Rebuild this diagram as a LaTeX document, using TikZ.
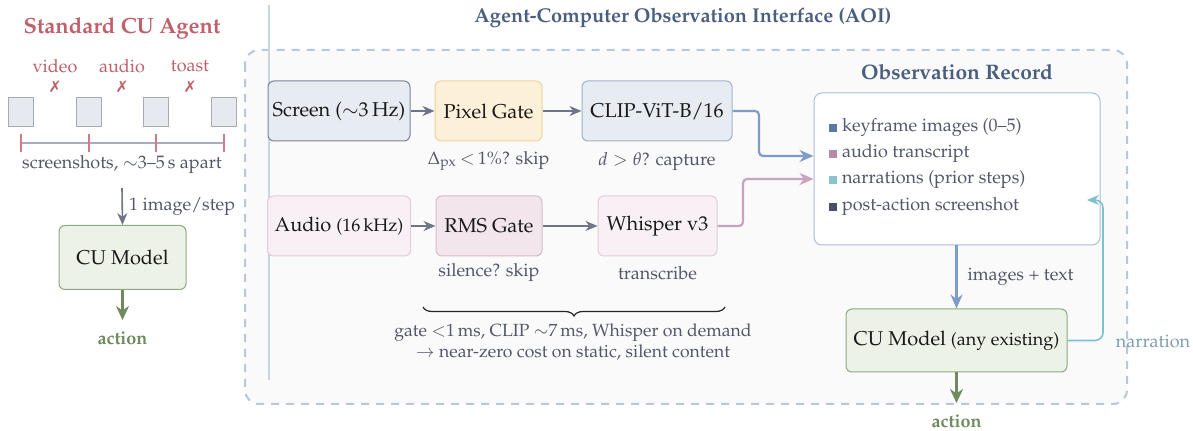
\documentclass[tikz,border=0pt]{standalone}
\usepackage[T1]{fontenc}
\usepackage{mathpazo}
\usepackage{pifont}
\usetikzlibrary{arrows.meta,decorations.pathreplacing}
\definecolor{redt}{HTML}{C0606A}
\definecolor{navy}{HTML}{4A5F80}
\definecolor{txtgray}{HTML}{525869}
\definecolor{arrgray}{HTML}{6E7586}
\definecolor{scrfill}{HTML}{E7EBF2}
\definecolor{scrdraw}{HTML}{7C8294}
\definecolor{gatefill}{HTML}{FDF0D9}
\definecolor{gatedraw}{HTML}{EDD49A}
\definecolor{clipdraw}{HTML}{9DB3D3}
\definecolor{audfill}{HTML}{F8F0F4}
\definecolor{auddraw}{HTML}{E2CCD8}
\definecolor{rmsfill}{HTML}{F2E5EC}
\definecolor{rmsdraw}{HTML}{D9BACB}
\definecolor{cufill}{HTML}{EDF2E7}
\definecolor{cudraw}{HTML}{8FA882}
\definecolor{actgreen}{HTML}{6E8A5E}
\definecolor{bluearr}{HTML}{7D9CC6}
\definecolor{pinkarr}{HTML}{C9A2BC}
\definecolor{tealarr}{HTML}{7FC0CF}
\definecolor{narrc}{HTML}{7C9EAE}
\definecolor{dashc}{HTML}{BAC6DA}
\definecolor{sepc}{HTML}{C8D3E6}
\definecolor{obsdraw}{HTML}{A9BEDA}
\definecolor{kone}{HTML}{5B7BA6}
\definecolor{ktwo}{HTML}{B38CA8}
\definecolor{kthree}{HTML}{8BC2CE}
\definecolor{kfour}{HTML}{4A5068}
\definecolor{smallfill}{HTML}{E6E9F0}
\definecolor{smalldraw}{HTML}{A6AAB6}
\definecolor{tickred}{HTML}{D27A86}
\definecolor{tlgray}{HTML}{A9ACBA}
\definecolor{aoifill}{HTML}{FAFAFB}
\newcommand{\smallsz}{\fontsize{9}{11}\selectfont}
\newcommand{\mainsz}{\fontsize{10}{12}\selectfont}
\newcommand{\sq}[1]{\textcolor{#1}{\rule{3.8pt}{3.8pt}}\hspace{2.5pt}}
\tikzset{
  box/.style={draw, rounded corners=3pt, line width=0.5pt, font=\mainsz, text=black!90, inner sep=0pt, minimum height=30pt},
  scrbox/.style={box, fill=scrfill, draw=scrdraw},
  gatebox/.style={box, fill=gatefill, draw=gatedraw},
  clipbox/.style={box, fill=scrfill, draw=clipdraw},
  audbox/.style={box, fill=audfill, draw=auddraw},
  rmsbox/.style={box, fill=rmsfill, draw=rmsdraw},
  cubox/.style={box, fill=cufill, draw=cudraw},
  sub/.style={font=\smallsz, text=txtgray, inner sep=1pt},
  garr/.style={draw=arrgray, line width=0.8pt, -{Stealth[length=6pt,width=5pt]}},
  barr/.style={draw=bluearr, line width=1.1pt, rounded corners=2pt, -{Stealth[length=7pt,width=6pt]}},
  parr/.style={draw=pinkarr, line width=1.1pt, rounded corners=2pt, -{Stealth[length=7pt,width=6pt]}},
  tarr/.style={draw=tealarr, line width=0.8pt, rounded corners=4pt, -{Stealth[length=6pt,width=5pt]}},
  actarr/.style={draw=actgreen, line width=1.3pt, -{Stealth[length=7pt,width=6.5pt]}},
  acttxt/.style={font=\smallsz\bfseries, text=actgreen, inner sep=1pt},
  shot/.style={draw=smalldraw, fill=smallfill, line width=0.5pt, minimum width=12.5pt, minimum height=14.5pt, inner sep=0pt},
  miss/.style={font=\smallsz, text=redt, inner sep=0pt, align=center},
  item/.style={font=\smallsz, text=txtgray, anchor=west, inner sep=0pt}
}
\begin{document}
\begin{tikzpicture}[x=0.5pt, y=-0.5pt]
\useasboundingbox (0,0) rectangle (1193,431);
% ---------- left: standard agent ----------
\node[font=\fontsize{11}{13}\selectfont\bfseries, text=redt] (ttl) at (122,28) {Standard CU Agent};
\node[miss] (mv) at (55,66) {video};
\node[miss] (ma) at (122,66) {audio};
\node[miss] (mt) at (190,66) {toast};
\node[miss, font=\fontsize{8}{9}\selectfont] (xv) at (55,87) {\ding{55}};
\node[miss, font=\fontsize{8}{9}\selectfont] (xa) at (122,87) {\ding{55}};
\node[miss, font=\fontsize{8}{9}\selectfont] (xt) at (190,87) {\ding{55}};
\node[shot] (s1) at (20.5,112.5) {};
\node[shot] (s2) at (88.5,112.5) {};
\node[shot] (s3) at (156,112.5) {};
\node[shot] (s4) at (224,112.5) {};
\coordinate (t1) at (21,143);
\coordinate (t2) at (89,143);
\coordinate (t3) at (156,143);
\coordinate (t4) at (224,143);
\draw[tlgray, line width=0.7pt] (t1) -- (t4);
\foreach \t in {t1,t2,t3,t4} \draw[tickred, line width=0.7pt] ([yshift=4.5pt]\t) -- ([yshift=-4.5pt]\t);
\node[sub] (shtxt) at (122,165) {screenshots, $\sim$3--5\,s apart};
\coordinate (ain) at (122,188);
\node[cubox, minimum width=63.5pt, minimum height=32pt] (cul) at (122.5,257.5) {CU Model};
\draw[garr] (ain) -- node[sub, right, xshift=2pt] {1 image/step} (cul.north);
\coordinate (actl) at (122.5,320);
\draw[actarr] (cul.south) -- (actl);
\node[acttxt] (actlt) at (122.5,338) {action};
% ---------- AOI ----------
\node[font=\fontsize{10}{12}\selectfont\bfseries, text=navy] (aoit) at (683,18) {Agent-Computer Observation Interface (AOI)};
\draw[dashc, fill=aoifill, line width=1pt, dash pattern=on 4pt off 3.5pt, rounded corners=7pt] (245,50) rectangle (1127,404);
% ---------- separator ----------
\coordinate (sept) at (269,5);
\coordinate (sepb) at (269,380);
\draw[sepc, line width=1pt] (sept) -- (sepb);
\node[font=\fontsize{10.5}{12}\selectfont\bfseries, text=navy] (obst) at (957,72) {Observation Record};
% row 1
\node[scrbox, minimum width=71pt] (scr) at (339,111) {Screen ($\sim$3\,Hz)};
\node[gatebox, minimum width=53.5pt] (pix) at (488.5,111) {Pixel Gate};
\node[clipbox, minimum width=75pt] (clip) at (657,111) {CLIP-ViT-B/16};
\draw[garr] (scr) -- (pix);
\draw[garr] (pix) -- (clip);
\node[sub] (pixs) at (488.5,161) {$\Delta_{\mathrm{px}}\,{<}\,1\%$? skip};
\node[sub] (clips) at (657,161) {$d>\theta$? capture};
% row 2
\node[audbox, minimum width=71.5pt] (aud) at (339,226) {Audio {\smallsz(16\,kHz)}};
\node[rmsbox, minimum width=53pt] (rms) at (489,226) {RMS Gate};
\node[audbox, minimum width=59.5pt] (wh) at (657.5,226) {Whisper v3};
\draw[garr] (aud) -- (rms);
\draw[garr] (rms) -- (wh);
\node[sub] (rmss) at (489,273) {silence? skip};
\node[sub] (whs) at (657.5,273) {transcribe};
% brace
\coordinate (bl) at (423,307);
\coordinate (br) at (725,307);
\draw[black!85, line width=0.6pt, decoration={brace, mirror, amplitude=4.5pt}, decorate] (bl) -- (br);
\node[sub, align=center, font=\fontsize{8.8}{10.5}\selectfont] (cost) at (573,342) {gate $<$1\,ms, CLIP $\sim$7\,ms, Whisper on demand\\$\rightarrow$ near-zero cost on static, silent content};
% observation record
\node[draw=obsdraw, fill=white, rounded corners=4pt, line width=0.5pt, minimum width=143pt, minimum height=76pt, inner sep=0pt] (obs) at (957,169) {};
\node[item] (i1) at (829,128) {\sq{kone}keyframe images (0--5)};
\node[item] (i2) at (829,154) {\sq{ktwo}audio transcript};
\node[item] (i3) at (829,180) {\sq{kthree}narrations (prior steps)};
\node[item] (i4) at (829,207) {\sq{kfour}post-action screenshot};
\draw[barr] (clip.east) -- (759,111) -- (759,156) -- (obs.west |- 0,156);
\draw[parr] (wh.east) -- (743,226) -- (743,179) -- (obs.west |- 0,179);
% CU model right
\node[cubox, minimum width=110.5pt, minimum height=31.5pt] (cur) at (956.5,340.5) {CU Model {\smallsz(any existing)}};
\draw[barr] (obs.south -| cur.north) -- node[sub, right, xshift=4pt] {images + text} (cur.north);
\coordinate (actr) at (956.5,403);
\draw[actarr] (cur.south) -- (actr);
\node[acttxt] (actrt) at (956.5,421) {action};
\coordinate (nt) at (1087,200);
\draw[tarr] (cur.east) -- (1103,340.5) -- (1103,200) -- (nt);
\node[font=\smallsz, text=narrc, inner sep=0pt] (narr) at (1153,341) {narration};
\end{tikzpicture}
\end{document}
